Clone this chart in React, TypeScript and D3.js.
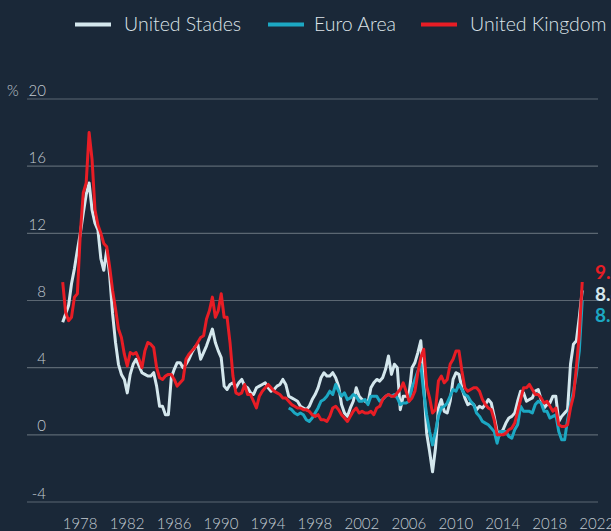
import React, { useEffect, useRef } from 'react'
import * as d3 from 'd3'

// quarterly year-on-year inflation, %
const usStart = 1978
const usValues = [
  6.7, 7.2, 7.7, 9.0, // 1978
  9.9, 11.0, 12.0, 13.2,
  14.3, 15.0, 13.4, 12.6, // 1980
  12.2, 10.5, 9.8, 11.0,
  9.5, 7.2, 5.5, 4.2,
  3.6, 3.3, 2.5, 3.6,
  4.2, 4.5, 4.1, 3.7, // 1984
  3.6, 3.5, 3.5, 3.7,
  2.9, 1.7, 1.7, 1.2,
  1.2, 3.4, 3.9, 4.3,
  4.3, 4.0, 4.2, 4.5, // 1988
  4.9, 5.2, 5.4, 4.5,
  4.9, 5.3, 5.8, 6.3,
  5.5, 5.0, 4.6, 2.9,
  2.7, 3.0, 3.1, 2.8, // 1992
  3.1, 3.3, 2.9, 2.8,
  2.5, 2.4, 2.8, 2.9,
  3.0, 3.1, 2.8, 2.6,
  2.7, 2.9, 3.0, 3.3, // 1996
  3.0, 2.3, 2.2, 2.1,
  2.0, 1.7, 1.6, 1.5,
  1.7, 2.1, 2.4, 2.8,
  3.4, 3.7, 3.5, 3.5, // 2000
  3.7, 3.4, 2.9, 1.8,
  1.3, 1.1, 1.6, 2.0,
  2.8, 2.3, 2.1, 2.0,
  1.9, 2.8, 3.1, 3.3, // 2004
  3.2, 3.4, 3.9, 4.7,
  3.6, 4.2, 4.0, 1.5,
  2.3, 2.3, 2.4, 4.0,
  4.3, 4.9, 5.6, 3.0, // 2008
  0.1, -1.0, -2.2, -0.8,
  1.6, 2.1, 1.4, 1.3,
  2.0, 3.3, 3.7, 3.6,
  2.8, 2.2, 1.8, 1.9, // 2012
  1.8, 1.5, 1.7, 1.6,
  1.8, 2.1, 1.9, 1.1,
  0.2, 0.0, 0.3, 0.7,
  1.0, 1.1, 1.3, 2.0, // 2016
  2.6, 2.5, 2.0, 2.1,
  2.2, 2.6, 2.7, 2.1,
  1.6, 1.8, 1.9, 2.3,
  2.3, 0.8, 1.1, 1.3, // 2020
  1.5, 4.2, 5.4, 5.6,
  7.0, 8.6,
]

const euroStart = 1997.25
const euroValues = [
  1.6, 1.5, 1.3, // 1997
  1.2, 1.3, 1.2, 0.9,
  0.8, 1.0, 1.3, 1.6,
  2.0, 2.1, 2.3, 2.6, // 2000
  2.4, 3.0, 2.6, 2.3,
  2.5, 2.1, 2.2, 2.4,
  2.3, 2.0, 2.0, 2.1,
  1.8, 2.3, 2.3, 2.3, // 2004
  2.0, 2.1, 2.3, 2.4,
  2.3, 2.4, 2.2, 1.8,
  1.9, 1.9, 2.0, 2.8,
  3.3, 3.8, 4.2, 2.5, // 2008
  1.2, 0.2, -0.6, 0.2,
  1.1, 1.6, 1.7, 1.9,
  2.3, 2.7, 2.6, 3.0,
  2.7, 2.4, 2.3, 2.0, // 2012
  1.8, 1.3, 1.1, 0.8,
  0.7, 0.6, 0.4, 0.2,
  -0.5, 0.2, 0.2, 0.2,
  -0.1, -0.2, 0.3, 0.6, // 2016
  1.7, 1.4, 1.4, 1.4,
  1.3, 1.8, 2.0, 1.9,
  1.4, 1.4, 1.0, 1.1,
  1.2, 0.2, -0.3, -0.3, // 2020
  0.9, 1.8, 2.6, 3.6,
  5.0, 8.0,
]

const ukStart = 1978
const ukValues = [
  9.1, 7.3, 6.8, 7.0, // 1978
  8.2, 8.4, 12.0, 14.4,
  15.0, 18.0, 16.4, 13.4, // 1980
  12.5, 12.0, 11.4, 11.2,
  10.0, 8.6, 7.5, 6.3,
  5.8, 4.8, 4.1, 4.9,
  4.8, 4.9, 4.5, 4.0, // 1984
  5.0, 5.5, 5.4, 5.2,
  4.0, 3.4, 3.3, 3.5,
  3.6, 3.6, 3.3, 2.9,
  3.1, 3.3, 4.5, 4.8, // 1988
  5.0, 5.2, 5.5, 5.8,
  5.9, 6.9, 7.4, 8.2,
  7.0, 7.4, 8.4, 7.0,
  7.0, 5.5, 3.5, 2.5, // 1992
  2.4, 2.5, 3.0, 2.4,
  2.4, 2.0, 1.6, 2.3,
  2.6, 2.8, 3.0, 2.8,
  2.6, 2.5, 2.4, 2.2, // 1996
  2.2, 2.0, 1.8, 1.7,
  1.6, 1.6, 1.5, 1.5,
  1.4, 1.2, 1.1, 1.2,
  0.9, 0.9, 0.8, 1.1, // 2000
  1.6, 1.7, 1.5, 1.2,
  1.0, 0.8, 1.1, 1.4,
  1.6, 1.3, 1.4, 1.3,
  1.3, 1.4, 1.2, 1.6, // 2004
  1.7, 2.1, 2.3, 2.4,
  2.3, 2.3, 2.5, 2.7,
  3.1, 2.6, 2.0, 2.2,
  2.6, 3.7, 4.6, 5.1, // 2008
  2.9, 2.2, 1.3, 1.5,
  3.2, 3.5, 3.1, 3.3,
  4.2, 4.5, 5.0, 5.0,
  3.8, 2.8, 2.6, 2.7, // 2012
  2.8, 2.8, 2.6, 2.1,
  1.8, 1.6, 1.5, 0.9,
  0.0, 0.0, 0.0, 0.1,
  0.3, 0.4, 0.7, 1.4, // 2016
  2.1, 2.8, 2.8, 3.0,
  2.7, 2.4, 2.4, 2.2,
  1.9, 2.0, 1.7, 1.4,
  1.6, 0.6, 0.5, 0.5, // 2020
  0.6, 1.6, 2.3, 4.0,
  6.0, 9.1,
]

const yTicks = [-4, 0, 4, 8, 12, 16, 20]
const xTicks = [1978, 1982, 1986, 1990, 1994, 1998, 2002, 2006, 2010, 2014, 2018, 2022]

const series = [
  { name: 'United Stades', start: usStart, values: usValues, color: '#d4e7ed', last: '8.6' },
  { name: 'Euro Area', start: euroStart, values: euroValues, color: '#1ca8c3', last: '8.1' },
  { name: 'United Kingdom', start: ukStart, values: ukValues, color: '#e81d25', last: '9.1' },
]

export default function App() {
  const svgRef = useRef<SVGSVGElement | null>(null)
  const width = 611
  const height = 531

  useEffect(() => {
    const svg = d3.select(svgRef.current)
    svg.selectAll('*').remove()

    const font = 'Lato, "Open Sans", sans-serif'

    svg.append('rect').attr('width', width).attr('height', height).attr('fill', '#1a2838')

    const x = d3.scaleLinear().domain([1978, 2022]).range([62.7, 579.3])
    const y = d3.scaleLinear().domain([-4, 20]).range([502, 99])

    // grid + y labels
    const grid = svg.append('g')
    grid.selectAll('line')
      .data(yTicks)
      .join('line')
      .attr('x1', 27)
      .attr('x2', 598)
      .attr('y1', d => y(d))
      .attr('y2', d => y(d))
      .attr('stroke', '#5b6772')
      .attr('stroke-width', 1.2)

    grid.selectAll('text')
      .data(yTicks)
      .join('text')
      .attr('x', 46)
      .attr('y', d => y(d) - 3.5)
      .attr('text-anchor', 'end')
      .attr('font-family', font)
      .attr('font-weight', 300)
      .attr('font-size', 15)
      .attr('fill', '#c3cbd2')
      .text(d => d)

    svg.append('text')
      .attr('x', 7)
      .attr('y', y(20) - 3.5)
      .attr('font-family', font)
      .attr('font-weight', 300)
      .attr('font-size', 15)
      .attr('fill', '#c3cbd2')
      .text('%')

    // x labels (left aligned on the tick)
    svg.append('g')
      .selectAll('text')
      .data(xTicks)
      .join('text')
      .attr('x', d => x(d))
      .attr('y', 529)
      .attr('font-family', font)
      .attr('font-weight', 300)
      .attr('font-size', 15)
      .attr('fill', '#c3cbd2')
      .text(d => d)

    series.forEach(s => {
      const gen = d3.line<number>()
        .x((_, i) => x(s.start + i / 4))
        .y(d => y(d))
      svg.append('path')
        .datum(s.values)
        .attr('d', gen)
        .attr('fill', 'none')
        .attr('stroke', s.color)
        .attr('stroke-width', 3)
        .attr('stroke-linejoin', 'round')
    })

    // end labels, running off the right edge as in the original
    const ends = [
      { s: series[2], y: 279 },
      { s: series[0], y: 300.5 },
      { s: series[1], y: 322 },
    ]
    svg.append('g')
      .selectAll('text')
      .data(ends)
      .join('text')
      .attr('x', 595)
      .attr('y', d => d.y)
      .attr('font-family', font)
      .attr('font-weight', 'bold')
      .attr('font-size', 19)
      .attr('fill', d => d.s.color)
      .text(d => d.s.last)

    // legend
    const legendPos = [
      { x1: 75, x2: 111, tx: 124 },
      { x1: 268, x2: 304, tx: 314 },
      { x1: 421, x2: 457, tx: 470 },
    ]
    const legend = svg.append('g')
    series.forEach((s, i) => {
      const p = legendPos[i]
      legend.append('line')
        .attr('x1', p.x1).attr('x2', p.x2)
        .attr('y1', 24.5).attr('y2', 24.5)
        .attr('stroke', s.color)
        .attr('stroke-width', 4)
      legend.append('text')
        .attr('x', p.tx)
        .attr('y', 31)
        .attr('font-family', font)
        .attr('font-weight', 300)
        .attr('font-size', 19.5)
        .attr('fill', '#dde4e9')
        .text(s.name)
    })
  }, [])

  return (
    <svg
      ref={svgRef}
      width={width}
      height={height}
      style={{ position: 'absolute', left: 0, top: 0, display: 'block' }}
    ></svg>
  )
}
